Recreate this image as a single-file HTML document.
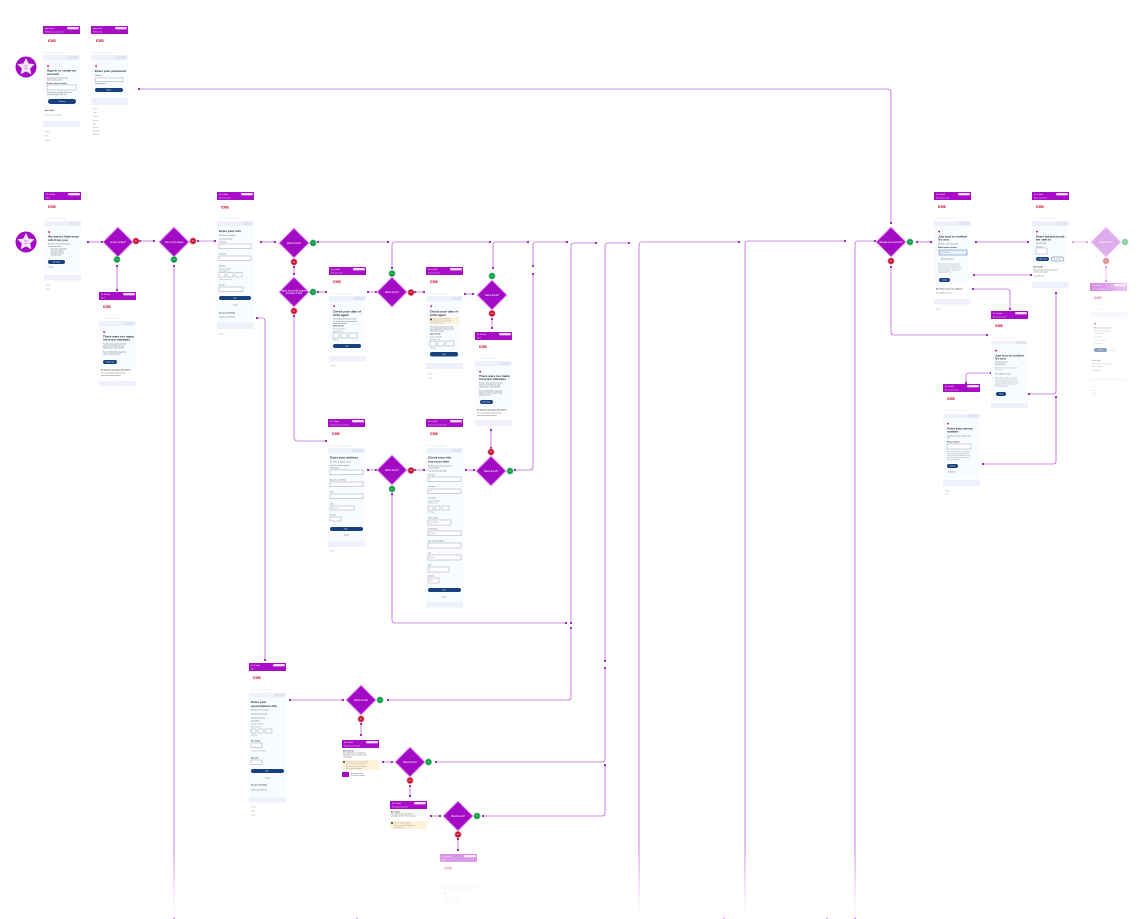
<!DOCTYPE html>
<html lang="en"><head><meta charset="utf-8"><title>Flow diagram</title>
<style>
html,body{margin:0;padding:0;background:#fff}
svg{display:block;filter:blur(.3px)}
text{font-family:"Liberation Sans",sans-serif}
.w{font-size:1.7px;fill:#fff}
.s{font-size:1.3px;fill:#f5ddfb}
.l{font-size:3.6px;font-weight:700;fill:#c8102e;stroke:#c8102e;stroke-width:.15;letter-spacing:.15px}
.n{font-size:1.25px;fill:#aeb2bd}
.h{font-size:3.1px;font-weight:700;fill:#1d1d22}
.a{font-size:1.8px;font-weight:700;fill:#2c2e34}
.b{font-size:1.5px;fill:#50535c}
.f{font-size:1.4px;fill:#90939c}
.k{font-size:1.5px;fill:#fff;text-anchor:middle}
.i{fill:#fff;stroke:#858a94;stroke-width:.4}
.hd{fill:#a80cc6}
.bn{fill:#eef1fc}
.cd{fill:#f8fbff}
.bt{fill:#17407f}
.pl{fill:#f3dcfa}
.ht{fill:#c8102e}
.c{fill:none;stroke:#c469de;stroke-width:.85;marker-start:url(#d);marker-end:url(#d)}
.dm{fill:#a30ac3;stroke:#eaa9f6;stroke-width:1}
.dt{font-size:2.3px;fill:#fff;text-anchor:middle}
.g{fill:#0a963f;stroke:#86d6a2;stroke-width:.7}
.r{fill:#c4122f;stroke:#ee9aa8;stroke-width:.7}
.bd{font-size:2px;fill:#fff;text-anchor:middle}
</style></head>
<body>
<svg width="1139" height="919" viewBox="0 0 1139 919" xmlns="http://www.w3.org/2000/svg">
<defs>
<marker id="d" markerUnits="userSpaceOnUse" markerWidth="4" markerHeight="4" refX="2" refY="2"><circle cx="2" cy="2" r="1.1" fill="#861ea6"/></marker>
<linearGradient id="fd" x1="0" y1="0" x2="0" y2="1"><stop offset="0" stop-color="#fff" stop-opacity="0"/><stop offset=".85" stop-color="#fff" stop-opacity=".92"/><stop offset="1" stop-color="#fff"/></linearGradient>
<linearGradient id="hf" x1="0" y1="0" x2="1" y2="0"><stop offset="0" stop-color="#a80cc6"/><stop offset="1" stop-color="#d98bea"/></linearGradient>
</defs>

<!-- connectors -->
<path class="c" d="M139 89H887Q891 89 891 93V223"/>
<path class="c" d="M88 242H102"/>
<path class="c" d="M140 241H154"/>
<path class="c" d="M198 241H215"/>
<path class="c" d="M261 242H275"/>
<path class="c" d="M117 266V290"/>
<path class="c" d="M174 266V925"/>
<path class="c" d="M318 242H388"/>
<path class="c" d="M490 242H395Q392 242 392 245V268"/>
<path class="c" d="M493 268V245Q493 242 496 242H528"/>
<path class="c" d="M294 267V274"/>
<path class="c" d="M318 292H326"/>
<path class="c" d="M368 292H376"/>
<path class="c" d="M415 292H424"/>
<path class="c" d="M465 294H473"/>
<path class="c" d="M492 319V328"/>
<path class="c" d="M491 430V448"/>
<path class="c" d="M294 316V437Q294 441 298 441H326"/>
<path class="c" d="M368 470H376"/>
<path class="c" d="M415 470H424"/>
<path class="c" d="M466 470H474"/>
<path class="c" d="M392 494V620Q392 623 395 623H566"/>
<path class="c" d="M515 470H530Q533 470 533 467V274"/>
<path class="c" d="M533 266V245Q533 242 536 242H567"/>
<path class="c" d="M571 623V246Q571 243 574 243H596"/>
<path class="c" d="M388 700H568Q571 700 571 697V628"/>
<path class="c" d="M605 661V246Q605 243 608 243H629"/>
<path class="c" d="M436 762H602Q605 762 605 759V668"/>
<path class="c" d="M483 816H602Q605 816 605 813V765"/>
<path class="c" d="M639 925V245Q639 242 642 242H739"/>
<path class="c" d="M745 925V244Q745 241 748 241H845"/>
<path class="c" d="M855 925V244Q855 241 858 241H875"/>
<path class="c" d="M257 318H262Q265 318 265 321V660"/>
<path class="c" d="M290 700H343"/>
<path class="c" d="M361 724V735"/>
<path class="c" d="M383 762H392"/>
<path class="c" d="M410 786V796"/>
<path class="c" d="M431 816H440"/>
<path class="c" d="M458 839V850"/>
<path class="c" d="M917 242H931"/>
<path class="c" d="M976 242H1028"/>
<path class="c" d="M1031 275H974"/>
<path class="c" d="M973 289H1007Q1010 289 1010 292V309"/>
<path class="c" d="M987 335H894Q891 335 891 332V267"/>
<path class="c" d="M1029 394H1053Q1056 394 1056 391V293"/>
<path class="c" d="M991 373H969Q966 373 966 376V383"/>
<path class="c" d="M983 464H1053Q1056 464 1056 461V397"/>
<g opacity=".45"><path class="c" d="M1073 242H1087"/><path class="c" d="M1106 267V281"/></g>

<!-- start stars -->
<g transform="translate(26 67)"><circle r="10.5" fill="#a30ac3"/><polygon fill="#f7e6fb" points="0,-9 2.59,-3.56 8.56,-2.78 4.18,1.36 5.29,7.28 0,4.4 -5.29,7.28 -4.18,1.36 -8.56,-2.78 -2.59,-3.56"/><text x="0" y="-.3" font-size="1.7" fill="#8a1aa6" text-anchor="middle">Start</text><text x="0" y="1.8" font-size="1.7" fill="#8a1aa6" text-anchor="middle">here</text></g>
<g transform="translate(26 242)"><circle r="10.5" fill="#a30ac3"/><polygon fill="#f7e6fb" points="0,-9 2.59,-3.56 8.56,-2.78 4.18,1.36 5.29,7.28 0,4.4 -5.29,7.28 -4.18,1.36 -8.56,-2.78 -2.59,-3.56"/><text x="0" y="-.3" font-size="1.7" fill="#8a1aa6" text-anchor="middle">Start</text><text x="0" y="1.8" font-size="1.7" fill="#8a1aa6" text-anchor="middle">here</text></g>

<!-- S1 -->
<g transform="translate(43 26)"><rect width="37" height="8" class="hd"/><text class="w" x="2" y="3.2">Sign in here</text><rect x="24" y="1" width="12" height="2.4" rx="1.2" class="pl"/><text class="s" x="2" y="6.4">Member access to your account</text><text class="l" x="5" y="16">CVS</text><text class="n" x="2" y="26.5">Prescriptions  Health &amp; Wellness  Shop</text><rect y="29" width="37" height="5" class="bn"/><rect x="25" y="30" width="10" height="3" fill="#dfe3f3"/><rect y="34" width="37" height="47" class="cd"/><text class="ht" x="4" y="41.5" font-size="4">♥</text><text class="h" x="4" y="45.5" font-size="2.8">Sign in or create an</text><text class="h" x="4" y="48.8">account</text><text class="b" x="4" y="52.5">Use the email or phone number</text><text class="b" x="4" y="54.5">linked to your account</text><text class="a" x="4" y="57.8">Email or phone number</text><rect x="4" y="59" width="29" height="5" class="i"/><text class="b" x="4" y="67.2">By continuing, you agree to the terms</text><text class="b" x="4" y="69.2">and privacy policy of this site</text><rect x="5" y="73" width="28" height="5" rx="2.5" class="bt"/><text class="k" x="19" y="76">Continue</text><text class="a" x="2" y="85">Need help?</text><text class="f" x="2" y="89.5">Privacy and Security FAQ</text><rect y="95" width="37" height="6" class="bn"/><text class="f" x="2" y="106">Privacy</text><text class="f" x="2" y="110.5">Terms</text><text class="f" x="2" y="115">Contact</text></g>
<!-- S2 -->
<g transform="translate(91 26)"><rect width="37" height="8" class="hd"/><text class="w" x="2" y="3.2">Sign in here</text><rect x="24" y="1" width="12" height="2.4" rx="1.2" class="pl"/><text class="s" x="2" y="6.4">Member access</text><text class="l" x="5" y="16">CVS</text><text class="n" x="2" y="26.5">Prescriptions  Health &amp; Wellness  Shop</text><rect y="29" width="37" height="5" class="bn"/><rect x="25" y="30" width="10" height="3" fill="#dfe3f3"/><rect y="34" width="37" height="35" class="cd"/><text class="ht" x="4" y="41.5" font-size="4">♥</text><text class="h" x="4" y="46" font-size="2.7">Enter your password</text><text class="b" x="4" y="50">Password</text><rect x="4" y="52" width="28" height="3.5" class="i"/><text class="b" x="4" y="58">Show password</text><rect x="4" y="62" width="28" height="4" rx="2" class="bt"/><text class="k" x="18" y="64.6">Sign in</text><rect y="72" width="37" height="7" class="bn"/><text class="f" x="2" y="83.5">Privacy</text><text class="f" x="2" y="87">Terms</text><text class="f" x="2" y="91">Contact</text><text class="f" x="2" y="95">Careers</text><text class="f" x="2" y="98.5">Help</text><text class="f" x="2" y="102">Site map</text><text class="f" x="2" y="105.5">Accessibility</text><text class="f" x="2" y="109">Ad choices</text></g>
<!-- S3 -->
<g transform="translate(44 192)"><rect width="37" height="8" class="hd"/><text class="w" x="2" y="3.2">Hi, Jo Smith</text><rect x="24" y="1" width="12" height="2.4" rx="1.2" class="pl"/><text class="s" x="2" y="6.4">Sign in</text><text class="l" x="4" y="16">CVS</text><text class="n" x="2" y="26.5">Prescriptions  Health &amp; Wellness  Shop</text><rect y="29" width="37" height="5" class="bn"/><rect x="25" y="30" width="10" height="3" fill="#dfe3f3"/><rect y="34" width="37" height="45" class="cd"/><text class="ht" x="4" y="41.5" font-size="4">♥</text><text class="h" x="4" y="45.5" font-size="2.8">We need a little more</text><text class="h" x="4" y="48.8">info from you</text><text class="b" x="4" y="52.5">Enter this info so we can find your</text><text class="b" x="4" y="55">account and records</text><text class="b" x="6" y="57.5">• Your name and birthday</text><text class="b" x="6" y="59.5">• Your home address</text><text class="b" x="6" y="61.5">• Your phone number</text><text class="b" x="6" y="63.5">• Your Rx number</text><rect x="4" y="68" width="17" height="4" rx="2" class="bt"/><text class="k" x="12.5" y="70.6">Get started</text><text class="b" x="4.5" y="75.5">Cancel</text><rect y="83" width="37" height="5.5" class="bn"/><text class="f" x="2" y="93.5">Privacy</text><text class="f" x="2" y="97.5">Terms</text></g>
<!-- S4 -->
<g transform="translate(99 292)"><rect width="37" height="8" class="hd"/><text class="w" x="2" y="3.2">Hi, Jo Smith</text><rect x="24" y="1" width="12" height="2.4" rx="1.2" class="pl"/><text class="s" x="2" y="6.4">Sign in</text><text class="l" x="4" y="16">CVS</text><text class="n" x="2" y="26.5">Prescriptions  Health &amp; Wellness  Shop</text><rect y="29" width="37" height="5" class="bn"/><rect x="25" y="30" width="10" height="3" fill="#dfe3f3"/><rect x="1" y="34" width="35" height="42" class="cd"/><text class="ht" x="4" y="41.5" font-size="4">♥</text><text class="h" x="4" y="45.5" font-size="2.6">There were too many</text><text class="h" x="4" y="48.5" font-size="2.6">incorrect attempts</text><text class="b" x="4" y="52.5">To protect your account, we locked</text><text class="b" x="4" y="54.5">sign in for now. Please try again</text><text class="b" x="4" y="56.5">in 30 minutes or call us for help.</text><text class="b" x="4" y="60.5">If you need help right away, please</text><text class="b" x="4" y="62.5">contact Customer Support</text><rect x="4" y="68" width="14" height="4" rx="2" class="bt"/><text class="k" x="11" y="70.6">Home page</text><text class="a" x="2" y="78.5" font-size="1.6">Do you have questions about this?</text><text class="b" x="2" y="81.5">Call us to talk with a specialist about</text><text class="b" x="2" y="84">your account and your privacy</text><rect y="89" width="37" height="5" class="bn"/></g>
<!-- S5 -->
<g transform="translate(217 192)"><rect width="37" height="8" class="hd"/><text class="w" x="2" y="3.2">Hi, Jo Smith</text><rect x="24" y="1" width="12" height="2.4" rx="1.2" class="pl"/><text class="s" x="2" y="6.4">Create your account</text><text class="l" x="4" y="16.5">CVS</text><text class="n" x="2" y="26.5">Prescriptions  Health &amp; Wellness  Shop</text><rect y="29" width="37" height="5" class="bn"/><rect x="25" y="30" width="10" height="3" fill="#dfe3f3"/><rect y="34" width="37" height="97" class="cd"/><text class="h" x="2" y="40">Enter your info</text><text class="b" x="2" y="44">We'll use this to find your</text><text class="b" x="2" y="47.5">account and records</text><text class="b" x="2" y="50.5">First name</text><rect x="2" y="52" width="32" height="4.5" class="i"/><text class="b" x="2" y="62.5">Last name</text><rect x="2" y="64" width="32" height="4.5" class="i"/><text class="b" x="2" y="74.5">Birth date</text><text class="f" x="2" y="77.5">Example 5/28/1990</text><text class="f" x="2" y="79.5">Month  Day  Year</text><rect x="2" y="80.5" width="6" height="4.5" class="i"/><text class="f" x="2" y="88">Verify age 18 and up</text><rect x="10" y="80.5" width="6" height="4.5" class="i"/><rect x="18" y="80.5" width="7" height="4.5" class="i"/><text class="b" x="2" y="93.5">Zip code</text><rect x="2" y="95" width="24" height="4.5" class="i"/><rect x="2" y="104" width="32" height="4" rx="2" class="bt"/><text class="k" x="18" y="106.6">Next</text><text class="b" x="16" y="113.5">Cancel</text><text class="a" x="2" y="121.5">Do you need help?</text><text class="b" x="2" y="125.5">Contact your Pharmacy</text><rect y="131" width="37" height="6" class="bn"/><text class="f" x="2" y="142.5">Privacy</text></g>
<!-- S6 -->
<g transform="translate(329 267)"><rect width="37" height="8" class="hd"/><text class="w" x="2" y="3.2">Hi, Jo Smith</text><rect x="24" y="1" width="12" height="2.4" rx="1.2" class="pl"/><text class="s" x="2" y="6.4">Create your account</text><text class="l" x="4" y="16">CVS</text><text class="n" x="2" y="26.5">Prescriptions  Health &amp; Wellness  Shop</text><rect y="29" width="37" height="5" class="bn"/><rect x="25" y="30" width="10" height="3" fill="#dfe3f3"/><rect y="34" width="35" height="52" class="cd"/><text class="ht" x="4" y="40.5" font-size="4">♥</text><text class="h" x="4" y="45.5" font-size="2.8">Check your date of</text><text class="h" x="4" y="48.8" font-size="2.8">birth again</text><text class="b" x="4" y="52.5">The info you entered doesn't match</text><text class="b" x="4" y="55">our records, please check your date</text><text class="b" x="4" y="57">of birth and try again</text><text class="a" x="4" y="59.5" font-size="1.5">Date of birth</text><text class="f" x="4" y="62.5">Example 5/28/1990</text><text class="f" x="4" y="65">Month  Day  Year</text><rect x="4" y="66" width="6" height="5" class="i"/><rect x="12" y="66" width="6" height="5" class="i"/><rect x="20" y="66" width="8" height="5" class="i"/><text class="f" x="4" y="73.5">Verify age</text><rect x="4" y="77" width="28" height="4" rx="2" class="bt"/><text class="k" x="18" y="79.6">Next</text><rect y="89" width="37" height="5.5" class="bn"/><text class="f" x="2" y="99.5">Privacy</text></g>
<!-- S7 -->
<g transform="translate(426 267)"><rect width="37" height="8" class="hd"/><text class="w" x="2" y="3.2">Hi, Jo Smith</text><rect x="24" y="1" width="12" height="2.4" rx="1.2" class="pl"/><text class="s" x="2" y="6.4">Create your account</text><text class="l" x="4" y="16">CVS</text><text class="n" x="2" y="26.5">Prescriptions  Health &amp; Wellness  Shop</text><rect y="29" width="37" height="5" class="bn"/><rect x="25" y="30" width="10" height="3" fill="#dfe3f3"/><rect y="34" width="35" height="60" class="cd"/><text class="ht" x="4" y="40.5" font-size="4">♥</text><text class="h" x="4" y="45.5" font-size="2.8">Check your date of</text><text class="h" x="4" y="48.8" font-size="2.8">birth again</text><rect x="3" y="50" width="30" height="7" fill="#fdf1d8"/><circle cx="5" cy="52.5" r="1" fill="#3a3a3a"/><text class="f" x="7" y="52.5" fill="#6e6655">We still can't find a match, so</text><text class="f" x="7" y="54.5">please check the date of birth</text><text class="f" x="4" y="56.5">entered and try again</text><text class="b" x="4" y="60.5">The info you entered doesn't match</text><text class="b" x="4" y="62.5">our records, please check your date</text><text class="b" x="4" y="64.5">of birth and try again</text><text class="a" x="4" y="67.5" font-size="1.5">Date of birth</text><text class="f" x="4" y="70.5">Example 5/28/1990</text><text class="f" x="4" y="73.2">Month  Day  Year</text><rect x="4" y="74" width="6" height="5" class="i"/><rect x="12" y="74" width="6" height="5" class="i"/><rect x="20" y="74" width="8" height="5" class="i"/><text class="f" x="4" y="81.5">Verify age</text><rect x="4" y="85" width="28" height="4.5" rx="2" class="bt"/><text class="k" x="18" y="87.9">Next</text><rect y="96" width="37" height="6" class="bn"/><text class="f" x="2" y="107.5">Privacy</text><text class="f" x="2" y="111.5">Terms</text></g>
<!-- S8 -->
<g transform="translate(475 332)"><rect width="37" height="8" class="hd"/><text class="w" x="2" y="3.2">Hi, Jo Smith</text><rect x="24" y="1" width="12" height="2.4" rx="1.2" class="pl"/><text class="s" x="2" y="6.4">Sign in</text><text class="l" x="4" y="16">CVS</text><text class="n" x="2" y="26.5">Prescriptions  Health &amp; Wellness  Shop</text><rect y="29" width="37" height="5" class="bn"/><rect x="25" y="30" width="10" height="3" fill="#dfe3f3"/><rect x="1" y="34" width="35" height="42" class="cd"/><text class="ht" x="4" y="41" font-size="4">♥</text><text class="h" x="4" y="44.8" font-size="2.6">There were too many</text><text class="h" x="4" y="48" font-size="2.6">incorrect attempts</text><text class="b" x="4" y="51.5">To protect your account, we locked</text><text class="b" x="4" y="53.5">sign in for now. Please try again</text><text class="b" x="4" y="55.5">in 30 minutes or call us for help.</text><text class="b" x="4" y="59.5">If you need help right away, please</text><text class="b" x="4" y="61.5">contact Customer Support for help</text><text class="b" x="4" y="63.5">with your account</text><rect x="5" y="68" width="13" height="4" rx="2" class="bt"/><text class="k" x="11.5" y="70.6">Home page</text><text class="a" x="2" y="78.5" font-size="1.6">Do you have questions about this?</text><text class="b" x="2" y="81.5">Call us to talk with a specialist about</text><text class="b" x="2" y="84">your account and your privacy</text><rect y="88" width="37" height="6" class="bn"/></g>
<!-- S9 -->
<g transform="translate(328 419)"><rect width="37" height="8" class="hd"/><text class="w" x="2" y="3.2">Hi, Jo Smith</text><rect x="24" y="1" width="12" height="2.4" rx="1.2" class="pl"/><text class="s" x="2" y="6.4">Create your account for your info</text><text class="l" x="4" y="16">CVS</text><text class="n" x="2" y="26.5">Prescriptions  Health &amp; Wellness  Shop</text><rect y="29" width="37" height="5" class="bn"/><rect x="25" y="30" width="10" height="3" fill="#dfe3f3"/><rect y="34" width="37" height="88" class="cd"/><text class="h" x="2" y="39.5">Enter your address</text><text class="b" x="2" y="43.5">We need your address to verify</text><text class="b" x="2" y="47">your info to find your records</text><text class="b" x="2" y="49.5">Street address</text><rect x="2" y="51" width="33" height="4.8" class="i"/><text class="b" x="2" y="61.5">Apt, suite, unit, building</text><rect x="2" y="63" width="33" height="4.8" class="i"/><text class="b" x="2" y="73.5">City</text><rect x="2" y="75" width="33" height="4.8" class="i"/><text class="b" x="2" y="85.5">State</text><rect x="2" y="87" width="24" height="4" class="i"/><text class="f" x="3" y="89.6">Select a state</text><text class="b" x="2" y="96.5">Zip code</text><rect x="2" y="98" width="11" height="4" class="i"/><rect x="2" y="108" width="33" height="4" rx="2" class="bt"/><text class="k" x="18" y="110.6">Next</text><text class="b" x="16" y="116.5">Cancel</text><rect y="122" width="37" height="6" class="bn"/><text class="f" x="2" y="132.5">Privacy</text></g>
<!-- S10 -->
<g transform="translate(426 419)"><rect width="37" height="8" class="hd"/><text class="w" x="2" y="3.2">Hi, Jo Smith</text><rect x="24" y="1" width="12" height="2.4" rx="1.2" class="pl"/><text class="s" x="2" y="6.4">Create your account for your info</text><text class="l" x="4" y="16">CVS</text><text class="n" x="2" y="26.5">Prescriptions  Health &amp; Wellness  Shop</text><rect y="29" width="37" height="5" class="bn"/><rect x="25" y="30" width="10" height="3" fill="#dfe3f3"/><rect y="34" width="37" height="149" class="cd"/><text class="h" x="2" y="39.5">Check your info</text><text class="h" x="2" y="43.3">one more time</text><text class="b" x="2" y="47.3">We didn't find a match, please look</text><text class="b" x="2" y="49.5">over your details</text><text class="b" x="2" y="52.5">Enter your information below</text><text class="b" x="2" y="56.5">First name</text><rect x="2" y="58" width="33" height="4.5" class="i"/><text class="f" x="3" y="60.6">Jo</text><text class="b" x="2" y="68">Last name</text><rect x="2" y="70" width="33" height="4.5" class="i"/><text class="f" x="3" y="72.6">Smith</text><text class="b" x="2" y="79.5">Date of birth</text><text class="f" x="2" y="82.5">Example 5/28/1990</text><text class="f" x="2" y="84.5">Month  Day  Year</text><rect x="2" y="87" width="5" height="4" class="i"/><rect x="9" y="87" width="5" height="4" class="i"/><rect x="16" y="87" width="7" height="4" class="i"/><text class="f" x="2" y="93.5">Verify age</text><text class="b" x="2" y="99.5">Phone number</text><rect x="2" y="101" width="23" height="5" class="i"/><text class="f" x="3" y="104">(555) 555-5555</text><text class="b" x="2" y="110.5">Street address</text><rect x="2" y="112" width="33" height="4.8" class="i"/><text class="f" x="3" y="115">123 Main St</text><text class="b" x="2" y="122.5">Apt, suite, unit, building</text><rect x="2" y="124" width="33" height="5" class="i"/><text class="b" x="2" y="134.5">City</text><rect x="2" y="136" width="33" height="5" class="i"/><text class="f" x="3" y="139">Anytown</text><text class="b" x="2" y="146.5">State</text><rect x="2" y="148" width="21" height="5" class="i"/><text class="f" x="3" y="151">RI</text><text class="b" x="2" y="157.5">Zip code</text><rect x="2" y="159" width="11" height="5" class="i"/><text class="f" x="3" y="162">02895</text><rect x="2" y="169" width="33" height="4" rx="2" class="bt"/><text class="k" x="18" y="171.6">Next</text><text class="b" x="16" y="178.5">Cancel</text><rect y="183" width="37" height="5.5" class="bn"/></g>
<!-- S11 -->
<g transform="translate(249 663)"><rect width="37" height="8" class="hd"/><text class="w" x="2" y="3.2">Hi, Jo Smith</text><rect x="24" y="1" width="12" height="2.4" rx="1.2" class="pl"/><text class="s" x="2" y="6.4">Sign in</text><text class="l" x="4" y="16">CVS</text><text class="n" x="2" y="26.5">Prescriptions  Health &amp; Wellness  Shop</text><rect y="30" width="37" height="4.5" class="bn"/><rect x="25" y="30.5" width="10" height="3" fill="#dfe3f3"/><rect y="34.5" width="37" height="99.5" class="cd"/><text class="h" x="2" y="40">Enter your</text><text class="h" x="2" y="43.8">prescriptions info</text><text class="b" x="2" y="47.5">We will use this to find your</text><text class="b" x="2" y="51.5">prescription and records</text><text class="b" x="2" y="55.5">Enter your info below</text><text class="b" x="2" y="58.5">Date of birth</text><text class="f" x="2" y="61.5">Example 5/28/1990</text><text class="f" x="2" y="64.5">Month  Day  Year</text><rect x="2" y="66" width="5" height="4" class="i"/><rect x="9" y="66" width="5" height="4" class="i"/><rect x="16" y="66" width="7" height="4" class="i"/><text class="f" x="2" y="72.5">Verify age</text><text class="a" x="2" y="78.5" font-size="1.5">Rx number</text><rect x="2" y="80" width="11" height="4.5" class="i"/><text class="f" x="3" y="88.5" fill="#5474a8">Where do I find my Rx?</text><text class="a" x="2" y="95.5" font-size="1.5">Zip code</text><rect x="2" y="97" width="11" height="4.5" class="i"/><rect x="2" y="106" width="33" height="4" rx="2" class="bt"/><text class="k" x="18" y="108.6">Next</text><text class="b" x="16" y="115.5">Cancel</text><text class="a" x="2" y="122.5">Do you need help?</text><text class="b" x="2" y="127.5">Contact your Pharmacy</text><rect y="134" width="37" height="5.5" class="bn"/><text class="f" x="2" y="144.5">Privacy</text><text class="f" x="2" y="148.5">Terms</text><text class="f" x="2" y="152.5">Contact</text></g>
<!-- S12 -->
<g transform="translate(342 740)"><rect width="37" height="8" class="hd"/><text class="w" x="2" y="3.2">Hi, Jo Smith</text><rect x="24" y="1" width="12" height="2.4" rx="1.2" class="pl"/><text class="s" x="2" y="6.4">Something went wrong here</text><text class="a" x="1" y="11.5" font-size="1.5">Date of birth</text><text class="b" x="1" y="13.5">We couldn't find a record with this</text><text class="b" x="1" y="15.5">info. Please check your date of birth</text><text class="b" x="1" y="17.5">and try again</text><rect y="20" width="37" height="10" fill="#fdf1d8"/><circle cx="2" cy="22" r="1" fill="#333"/><text class="f" x="4" y="22.5">Too many tries for this user info and</text><text class="f" x="4" y="24.5">your account is locked for now</text><text class="f" x="4" y="27">Please call us or try again later to</text><text class="f" x="4" y="29">access your prescriptions</text><rect y="32" width="7" height="5" fill="#a80cc6"/><text class="b" x="9" y="34" fill="#7c3f96">Go to your account</text><text class="b" x="9" y="36">or contact us for help</text></g>
<!-- S13 -->
<g transform="translate(390 801)"><rect width="37" height="8" class="hd"/><text class="w" x="2" y="3.2">Hi, Jo Smith</text><rect x="24" y="1" width="12" height="2.4" rx="1.2" class="pl"/><text class="s" x="2" y="6.4">Something went wrong here</text><text class="a" x="1" y="11.5" font-size="1.5">Rx number</text><text class="b" x="1" y="13.5">We couldn't find a record with this</text><text class="b" x="1" y="15.5">prescription number. Please try again</text><rect y="20" width="37" height="8" fill="#fdf1d8"/><circle cx="2" cy="22" r="1" fill="#333"/><text class="f" x="4" y="22.5">We can't verify the number</text><text class="f" x="4" y="25">Please check your Rx label or call</text><text class="f" x="4" y="27">your pharmacy</text></g>
<!-- S14 -->
<g transform="translate(440 854)" opacity=".6"><rect width="37" height="8" fill="#b73cd0"/><text class="w" x="2" y="3.2">Hi, Jo Smith</text><rect x="24" y="1" width="12" height="2.4" rx="1.2" class="pl"/><text class="s" x="2" y="6.4">Sign in</text><text class="l" x="4" y="15.5">CVS</text><text class="n" x="2" y="24.5">Prescriptions  Health &amp; Wellness  Shop</text><rect y="31" width="37" height="5" class="bn"/><text class="ht" x="4" y="41" font-size="4">♥</text><text class="b" x="4" y="44.5">Please wait to try again</text><text class="b" x="4" y="47.5">we locked your access</text><text class="f" x="6" y="52.5">Your account is locked for now</text><text class="f" x="6" y="54.5">Call us to get help</text></g>
<!-- S15 -->
<g transform="translate(934 192)"><rect width="37" height="8" class="hd"/><text class="w" x="2" y="3.2">Hi, Jo Smith</text><rect x="24" y="1" width="12" height="2.4" rx="1.2" class="pl"/><text class="s" x="2" y="6.4">Sign in to your account</text><text class="l" x="4" y="16">CVS</text><text class="n" x="2" y="26.5">Prescriptions  Health &amp; Wellness  Shop</text><rect y="29" width="37" height="5" class="bn"/><rect x="25" y="30" width="10" height="3" fill="#dfe3f3"/><rect y="34" width="35" height="59" class="cd"/><text class="ht" x="4" y="41" font-size="4">♥</text><text class="h" x="4" y="45.5" font-size="2.7">Just text to confirm</text><text class="h" x="4" y="48.7" font-size="2.7">it's you</text><text class="b" x="4" y="52.5">We'll text a code to your phone</text><text class="a" x="4" y="55.8" font-size="1.5">Mobile phone number</text><rect x="5" y="58" width="28" height="5" fill="#eaf2fb" stroke="#3f72b8" stroke-width=".5"/><text class="f" x="6" y="61">(555) 555-5555</text><text class="b" x="7" y="67.5">Add a code  I agree</text><text class="f" x="4" y="72.5">By texting this number, you agree to</text><text class="f" x="4" y="74.5">receive automated messages at this</text><text class="f" x="4" y="76.5">number. Message and data rates may</text><text class="f" x="4" y="78.5">apply. See terms for conditions and</text><text class="f" x="4" y="80.5">privacy policy details</text><rect x="5" y="86" width="11" height="4" rx="2" class="bt"/><text class="k" x="10.5" y="88.6">Continue</text><text class="a" x="2" y="97.5" font-size="1.6">Don't have access to a phone?</text><text class="b" x="2" y="101.5">Use a different account</text><rect y="107" width="37" height="5.5" class="bn"/><text class="f" x="2" y="117.5">Privacy</text></g>
<!-- S16 -->
<g transform="translate(1032 192)"><rect width="37" height="8" class="hd"/><text class="w" x="2" y="3.2">Hi, Jo Smith</text><rect x="24" y="1" width="12" height="2.4" rx="1.2" class="pl"/><text class="s" x="2" y="6.4">Sign in to your account</text><text class="l" x="4" y="16">CVS</text><text class="n" x="2" y="26.5">Prescriptions  Health &amp; Wellness  Shop</text><rect y="29" width="37" height="5" class="bn"/><rect x="25" y="30" width="10" height="3" fill="#dfe3f3"/><rect y="34" width="35" height="38" class="cd"/><text class="ht" x="4" y="41" font-size="4">♥</text><text class="h" x="4" y="45.5" font-size="2.7">Enter the passcode</text><text class="h" x="4" y="48.5" font-size="2.7">we sent to</text><text class="b" x="4" y="52">(555) 555-5555</text><text class="b" x="4" y="55.5">Passcode</text><rect x="4" y="56" width="11" height="6" class="i"/><rect x="4" y="65" width="13" height="4" rx="2" class="bt"/><text class="k" x="10.5" y="67.6">Confirm code</text><rect x="19" y="65" width="13" height="4" rx="2" fill="#fff" stroke="#17407f" stroke-width=".4"/><text class="f" x="21" y="67.6">Resend code</text><text class="a" x="1.5" y="75.5" font-size="1.6">Need help?</text><text class="b" x="1.5" y="78.5">Having trouble with your passcode?</text><text class="b" x="1.5" y="80.5">Contact us for support</text><text class="b" x="1.5" y="84.5">Try another way</text><rect y="90" width="37" height="6" class="bn"/></g>
<!-- S17 -->
<g transform="translate(991 311)"><rect width="37" height="8" class="hd"/><text class="w" x="2" y="3.2">Hi, Jo Smith</text><rect x="24" y="1" width="12" height="2.4" rx="1.2" class="pl"/><text class="s" x="2" y="6.4">Sign in to your account</text><text class="l" x="4" y="16">CVS</text><text class="n" x="2" y="26.5">Prescriptions  Health &amp; Wellness  Shop</text><rect y="30" width="37" height="3.5" class="bn"/><rect x="25" y="30" width="10" height="3" fill="#dfe3f3"/><rect y="33.5" width="36" height="56" class="cd"/><text class="ht" x="4" y="41" font-size="4">♥</text><text class="h" x="4" y="45.5" font-size="2.7">Just text to confirm</text><text class="h" x="4" y="48.5" font-size="2.7">it's you</text><text class="b" x="4" y="51.5">We'll send a text to</text><text class="b" x="4" y="54">(555) 555-5555</text><text class="f" x="4" y="57.5">We'll use this one time code to make</text><text class="f" x="4" y="59.5">sure it's you</text><text class="b" x="4" y="63.5">Enter a different number</text><text class="f" x="4" y="67.5">By texting this number, you agree to</text><text class="f" x="4" y="69.5">receive automated messages at this</text><text class="f" x="4" y="71.5">number. Message and data rates may</text><text class="f" x="4" y="73.5">apply. See terms for conditions and</text><text class="f" x="4" y="75.5">privacy policy details</text><rect x="5" y="81" width="10" height="4" rx="2" class="bt"/><text class="k" x="10" y="83.6">Send</text><rect y="92" width="37" height="5" class="bn"/></g>
<!-- S18 -->
<g transform="translate(943 384)"><rect width="37" height="8" class="hd"/><text class="w" x="2" y="3.2">Hi, Jo Smith</text><rect x="24" y="1" width="12" height="2.4" rx="1.2" class="pl"/><text class="s" x="2" y="6.4">Sign in to your account</text><text class="l" x="4" y="16">CVS</text><text class="n" x="2" y="26.5">Prescriptions  Health &amp; Wellness  Shop</text><rect y="30" width="37" height="4" class="bn"/><rect x="25" y="30.5" width="10" height="3" fill="#dfe3f3"/><rect y="34" width="36" height="60" class="cd"/><text class="ht" x="4" y="41" font-size="4">♥</text><text class="h" x="4" y="45.5" font-size="2.7">Enter your phone</text><text class="h" x="4" y="48.5" font-size="2.7">number</text><text class="b" x="4" y="52.5">You will get a text to confirm it's you</text><text class="b" x="4" y="54.5">here</text><text class="a" x="4" y="58.5" font-size="1.5">Phone number</text><rect x="4" y="60" width="24" height="5" class="i"/><text class="f" x="4" y="68">By texting this number, you agree to</text><text class="f" x="4" y="70">receive automated messages at this</text><text class="f" x="4" y="72">number. Message and data rates may</text><text class="f" x="4" y="74">apply. See terms for conditions and</text><text class="f" x="4" y="76">privacy policy details</text><rect x="4" y="80" width="11" height="4" rx="2" class="bt"/><text class="k" x="9.5" y="82.6">Continue</text><text class="b" x="5" y="88.5">No thanks</text><rect y="96" width="37" height="6" class="bn"/><text class="f" x="2" y="107.5">Privacy</text><text class="f" x="2" y="110.5">Terms</text></g>
<!-- S19 -->
<g transform="translate(1090 283)" opacity=".5"><rect width="37" height="8" fill="url(#hf)"/><text class="w" x="2" y="3.2">Hi, Jo Smith</text><rect x="24" y="1" width="12" height="2.4" rx="1.2" class="pl"/><text class="s" x="2" y="6.4">Sign in to your account</text><text class="l" x="4" y="16">CVS</text><text class="n" x="2" y="26.5">Prescriptions  Health &amp; Wellness</text><rect y="29" width="37" height="5" class="bn"/><text class="ht" x="4" y="42" font-size="4">♥</text><text class="a" x="4" y="45.5">Before you continue</text><text class="b" x="4" y="48.5">Review your account and</text><text class="b" x="4" y="51">your info below</text><text class="b" x="4" y="54.5">Your name</text><text class="f" x="4" y="58">Your phone number</text><text class="f" x="4" y="61">Your address</text><rect x="4" y="65" width="13" height="4" rx="2" class="bt"/><text class="k" x="10.5" y="67.6">Confirm</text><text class="f" x="20" y="67.6">Go back</text><text class="a" x="1.5" y="78">Need help?</text><text class="b" x="1.5" y="81.5">Call or contact your pharmacy</text><text class="b" x="1.5" y="84">for any questions</text><text class="b" x="1.5" y="88">Try another way</text><rect y="95" width="37" height="3" class="bn"/><text class="f" x="2" y="104.5">Privacy</text><text class="f" x="2" y="108">Terms</text><text class="f" x="2" y="111.5">Contact</text></g>

<!-- decision diamonds -->
<g><polygon class="dm" points="118,227 133,242 118,257 103,242"/><text class="dt" x="118" y="243">Is User locked?</text>
<polygon class="dm" points="174,227 189,242 174,257 159,242"/><text class="dt" x="174" y="243">User in the lookup</text>
<polygon class="dm" points="294,228 309,243 294,258 279,243"/><text class="dt" x="294" y="244">Match found?</text>
<polygon class="dm" points="294,277 309,292 294,307 279,292"/><text class="dt" x="294" y="291.5">Match found with address</text><text class="dt" x="294" y="294.2">and date of birth</text>
<polygon class="dm" points="392,277 407,292 392,307 377,292"/><text class="dt" x="392" y="293">Match found?</text>
<polygon class="dm" points="492,280 507,295 492,310 477,295"/><text class="dt" x="492" y="296">Match found?</text>
<polygon class="dm" points="392,455 407,470 392,485 377,470"/><text class="dt" x="392" y="471">Match found?</text>
<polygon class="dm" points="491,456 506,471 491,486 476,471"/><text class="dt" x="491" y="472">Match found?</text>
<polygon class="dm" points="361,685 376,700 361,715 346,700"/><text class="dt" x="361" y="701">Match found?</text>
<polygon class="dm" points="410,747 425,762 410,777 395,762"/><text class="dt" x="410" y="763">Match found?</text>
<polygon class="dm" points="458,801 473,816 458,831 443,816"/><text class="dt" x="458" y="817">Match found?</text>
<polygon class="dm" points="891,227 906,242 891,257 876,242"/><text class="dt" x="891" y="243">Manage your account?</text>
<g opacity=".5"><polygon fill="#b95cd6" stroke="#eaa9f6" points="1106,227 1121,242 1106,257 1091,242"/><text class="dt" x="1106" y="243">Match found?</text><circle class="g" cx="1125" cy="242" r="3.2"/><text class="bd" x="1125" y="242.7">Yes</text><circle class="r" cx="1106" cy="261" r="3.2"/><text class="bd" x="1106" y="261.7">No</text></g></g>

<!-- yes/no badges -->
<circle class="r" cx="136" cy="241" r="3.2"/><text class="bd" x="136" y="241.7">No</text>
<circle class="g" cx="117" cy="259.5" r="3.2"/><text class="bd" x="117" y="260.2">Yes</text>
<circle class="r" cx="193" cy="241" r="3.2"/><text class="bd" x="193" y="241.7">No</text>
<circle class="g" cx="174" cy="259.5" r="3.2"/><text class="bd" x="174" y="260.2">Yes</text>
<circle class="g" cx="313" cy="243" r="3.2"/><text class="bd" x="313" y="243.7">Yes</text>
<circle class="r" cx="294" cy="262" r="3.2"/><text class="bd" x="294" y="262.7">No</text>
<circle class="g" cx="313" cy="292" r="3.2"/><text class="bd" x="313" y="292.7">Yes</text>
<circle class="r" cx="294" cy="311" r="3.2"/><text class="bd" x="294" y="311.7">No</text>
<circle class="g" cx="392" cy="273.5" r="3.2"/><text class="bd" x="392" y="274.2">Yes</text>
<circle class="r" cx="411" cy="292.5" r="3.2"/><text class="bd" x="411" y="293.2">No</text>
<circle class="g" cx="492" cy="276" r="3.2"/><text class="bd" x="492" y="276.7">Yes</text>
<circle class="r" cx="492" cy="313.5" r="3.2"/><text class="bd" x="492" y="314.2">No</text>
<circle class="r" cx="411" cy="470.5" r="3.2"/><text class="bd" x="411" y="471.2">No</text>
<circle class="g" cx="392" cy="489" r="3.2"/><text class="bd" x="392" y="489.7">Yes</text>
<circle class="r" cx="491" cy="452" r="3.2"/><text class="bd" x="491" y="452.7">No</text>
<circle class="g" cx="510" cy="471" r="3.2"/><text class="bd" x="510" y="471.7">Yes</text>
<circle class="g" cx="380" cy="700" r="3.2"/><text class="bd" x="380" y="700.7">Yes</text>
<circle class="r" cx="361" cy="719" r="3.2"/><text class="bd" x="361" y="719.7">No</text>
<circle class="g" cx="428.5" cy="762" r="3.2"/><text class="bd" x="428.5" y="762.7">Yes</text>
<circle class="r" cx="410" cy="780.5" r="3.2"/><text class="bd" x="410" y="781.2">No</text>
<circle class="g" cx="477" cy="816" r="3.2"/><text class="bd" x="477" y="816.7">Yes</text>
<circle class="r" cx="458" cy="834.5" r="3.2"/><text class="bd" x="458" y="835.2">No</text>
<circle class="g" cx="910" cy="242" r="3.2"/><text class="bd" x="910" y="242.7">Yes</text>
<circle class="r" cx="891" cy="261" r="3.2"/><text class="bd" x="891" y="261.7">No</text>

<!-- bottom fade -->
<rect x="0" y="850" width="1139" height="69" fill="url(#fd)"/>
<g fill="#c77be0"><circle cx="174" cy="918.5" r="1"/><circle cx="357" cy="918.5" r=".8"/><circle cx="724" cy="918.5" r=".8"/><circle cx="827" cy="918.5" r=".8"/><circle cx="855" cy="918.5" r="1"/></g>
</svg>
</body></html>
